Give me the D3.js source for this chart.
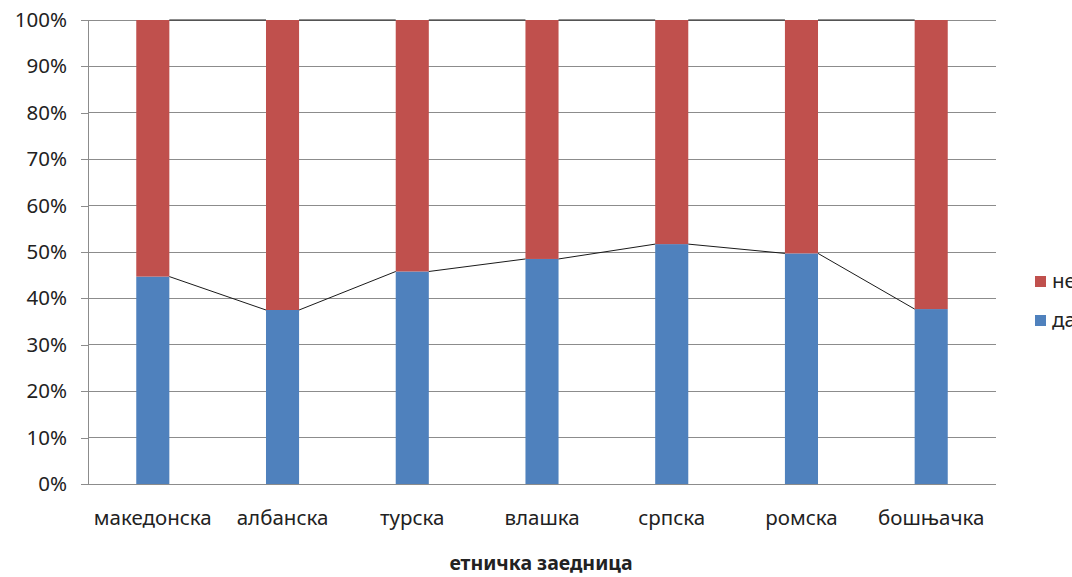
<!DOCTYPE html>
<html><head><meta charset="utf-8">
<script src="https://cdn.jsdelivr.net/npm/d3@7"></script>
<style>
body{margin:0;background:#fff;}
text{font-family:"Noto Sans",sans-serif;fill:#222;}
</style></head>
<body>
<svg id="c" width="1072" height="577"></svg>
<script>
const categories = ["македонска","албанска","турска","влашка","српска","ромска","бошњачка"];
const da = [44.7, 37.5, 45.8, 48.5, 51.7, 49.7, 37.7];
const ne = [55.3, 62.5, 54.2, 51.5, 48.3, 50.3, 62.3];
const seriesNames = ["да","не"];
const colors = {"да":"#4f81bd","не":"#c0504d"};
const yTicks = [0,10,20,30,40,50,60,70,80,90,100];
const xTitle = "етничка заедница";

(function(){
const svg = d3.select("#c");
const mL = 88, mR = 996, mT = 20, mB = 484;
const x = d3.scaleBand().domain(categories).range([mL,mR]).paddingInner(0.745).paddingOuter(0.372);
const y = d3.scaleLinear().domain([0,100]).range([mB,mT]);

const grid = "#8c8c8c";
svg.append("g").selectAll("line").data(yTicks).join("line")
  .attr("x1",mL).attr("x2",mR).attr("y1",d=>y(d)).attr("y2",d=>y(d))
  .attr("stroke",grid).attr("stroke-width",1).attr("shape-rendering","crispEdges");

const yAxis = d3.axisLeft(y).tickValues(yTicks).tickFormat(d=>d+"%").tickSize(7).tickPadding(14);
const ga = svg.append("g").attr("transform",`translate(${mL},0)`).call(yAxis);
ga.select(".domain").attr("stroke",grid).attr("shape-rendering","crispEdges");
ga.selectAll(".tick line").attr("stroke",grid).attr("shape-rendering","crispEdges");
ga.selectAll(".tick text").style("font-size","20.5px").style("font-family","'Noto Sans',sans-serif").attr("fill","#222");

const xAxis = d3.axisBottom(x).tickSize(0).tickPadding(26);
const gx = svg.append("g").attr("transform",`translate(0,${mB})`).call(xAxis);
gx.select(".domain").remove();
gx.selectAll(".tick text").style("font-size","20.5px").style("font-family","'Noto Sans',sans-serif").attr("fill","#222");

const rows = categories.map((c,i)=>({cat:c,"да":da[i],"не":ne[i]}));
const stack = d3.stack().keys(seriesNames)(rows);
svg.append("g").selectAll("g").data(stack).join("g").attr("fill",d=>colors[d.key])
  .selectAll("rect").data(d=>d).join("rect")
  .attr("x",d=>x(d.data.cat)).attr("width",x.bandwidth())
  .attr("y",d=>y(d[1])).attr("height",d=>y(d[0])-y(d[1]));

stack.forEach(s=>{
  const segs = [];
  for(let i=0;i<s.length-1;i++){
    segs.push([[x(categories[i])+x.bandwidth(), y(s[i][1])],[x(categories[i+1]), y(s[i+1][1])]]);
  }
  svg.append("g").selectAll("line").data(segs).join("line")
    .attr("x1",d=>d[0][0]).attr("y1",d=>d[0][1]).attr("x2",d=>d[1][0]).attr("y2",d=>d[1][1])
    .attr("stroke","#1a1a1a").attr("stroke-width",1);
});

svg.append("text").attr("x",541).attr("y",570).attr("text-anchor","middle")
  .style("font-size","19.5px").style("font-weight","bold").text(xTitle);

const legendItems = ["не","да"];
const lg = svg.append("g").selectAll("g").data(legendItems).join("g")
  .attr("transform",(d,i)=>`translate(1035,${276+i*39})`);
lg.append("rect").attr("width",11).attr("height",11).attr("fill",d=>colors[d]);
lg.append("text").attr("x",17).attr("y",12).style("font-size","20.5px").text(d=>d);
})();
</script>
</body></html>
